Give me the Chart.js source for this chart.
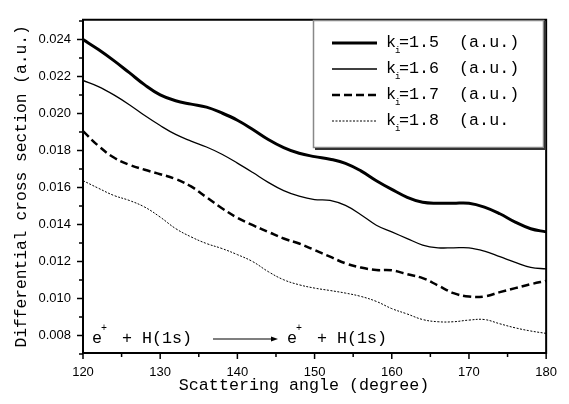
<!DOCTYPE html>
<html>
<head>
<meta charset="utf-8">
<script src="https://cdn.jsdelivr.net/npm/chart.js@4/dist/chart.umd.min.js"></script>
<style>
    html, body { margin: 0; padding: 0; background: #fff; }
    #wrap { width: 569px; height: 404px; }
</style>
</head>
<body>
<div id="wrap"><canvas id="dcsChart" width="569" height="404"></canvas></div>
<script>
// scattering angle (degree)
var angles = [120, 122, 124, 126, 128, 130, 132, 134, 136, 138, 140, 142, 144, 146, 148, 150,
              152, 154, 156, 158, 160, 162, 164, 166, 168, 170, 172, 174, 176, 178, 180];
// differential cross section (a.u.) for each incident momentum
var k15 = [0.0240, 0.02346, 0.02286, 0.02221, 0.02155, 0.02101, 0.02069, 0.02051, 0.02035, 0.02003, 0.01964,
           0.01914, 0.0186, 0.01816, 0.01785, 0.01767, 0.01753, 0.01731, 0.0169, 0.01637, 0.0159,
           0.01547, 0.0152, 0.01515, 0.01515, 0.01515, 0.01494, 0.01458, 0.01413, 0.01377, 0.0136];
var k16 = [0.02179, 0.02146, 0.02101, 0.02048, 0.01989, 0.01935, 0.01887, 0.01851, 0.01819, 0.0178, 0.01732,
           0.01681, 0.01628, 0.01583, 0.01553, 0.01535, 0.0153, 0.01503, 0.01453, 0.01396, 0.0136,
           0.01324, 0.01289, 0.01274, 0.01274, 0.01274, 0.01256, 0.01226, 0.01195, 0.01168, 0.0116];
var k17 = [0.01905, 0.01825, 0.01762, 0.01723, 0.01696, 0.01672, 0.01646, 0.01606, 0.01547, 0.01488, 0.01436,
           0.01396, 0.0136, 0.01324, 0.01297, 0.01262, 0.01226, 0.0119, 0.01167, 0.01154, 0.01152,
           0.01131, 0.0111, 0.0107, 0.01029, 0.0101, 0.01011, 0.01034, 0.01056, 0.01077, 0.01095];
var k18 = [0.01637, 0.01596, 0.01557, 0.0153, 0.01494, 0.0144, 0.01378, 0.01333, 0.01297, 0.0127, 0.01237,
           0.01199, 0.01145, 0.01101, 0.01074, 0.01056, 0.01043, 0.01029, 0.01011, 0.00984, 0.00945,
           0.00916, 0.00886, 0.00874, 0.00874, 0.00883, 0.00886, 0.00863, 0.00841, 0.00824, 0.00811];

var legendRest = ['=1.5  (a.u.)', '=1.6  (a.u.)', '=1.7  (a.u.)', '=1.8  (a.u.'];

var xTicks = [120, 130, 140, 150, 160, 170, 180];
var xMinor = [125, 135, 145, 155, 165, 175];
var yTicks = [0.008, 0.010, 0.012, 0.014, 0.016, 0.018, 0.020, 0.022, 0.024];
var yMinor = [0.007, 0.009, 0.011, 0.013, 0.015, 0.017, 0.019, 0.021, 0.023, 0.025];

function toPoints(vals) {
    var pts = [];
    for (var i = 0; i < angles.length; i++) {
        pts.push({ x: angles[i], y: vals[i] });
    }
    return pts;
}

var monoFont = '"Liberation Mono", "DejaVu Sans Mono", monospace';
var sansFont = '"Liberation Sans", Arial, sans-serif';

// frame, tick marks, legend box and reaction text
var extras = {
    id: 'extras',
    afterDraw: function (chart) {
        var ctx = chart.ctx;
        var a = chart.chartArea;
        var xs = chart.scales.x;
        var ys = chart.scales.y;
        ctx.save();
        ctx.strokeStyle = '#000';
        ctx.fillStyle = '#000';

        // top and right frame
        ctx.lineWidth = 2;
        ctx.beginPath();
        ctx.moveTo(a.left - 1, a.top);
        ctx.lineTo(a.right, a.top);
        ctx.lineTo(a.right, a.bottom + 1);
        ctx.stroke();

        // ticks, outward
        ctx.lineWidth = 1.5;
        ctx.beginPath();
        xTicks.forEach(function (v) {
            var px = xs.getPixelForValue(v);
            ctx.moveTo(px, a.bottom); ctx.lineTo(px, a.bottom + 6);
        });
        xMinor.forEach(function (v) {
            var px = xs.getPixelForValue(v);
            ctx.moveTo(px, a.bottom); ctx.lineTo(px, a.bottom + 4);
        });
        yTicks.forEach(function (v) {
            var py = ys.getPixelForValue(v);
            ctx.moveTo(a.left, py); ctx.lineTo(a.left - 6, py);
        });
        yMinor.forEach(function (v) {
            var py = ys.getPixelForValue(v);
            ctx.moveTo(a.left, py); ctx.lineTo(a.left - 4, py);
        });
        ctx.stroke();

        // x title
        ctx.font = '16.7px ' + monoFont;
        ctx.textAlign = 'center';
        ctx.textBaseline = 'middle';
        ctx.fillText('Scattering angle (degree)', 304, 386);

        // legend box
        ctx.strokeStyle = '#888';
        ctx.lineWidth = 1.5;
        ctx.strokeRect(313.5, 20.5, 230, 127);
        ctx.strokeStyle = '#333';
        ctx.lineWidth = 2;
        ctx.beginPath();
        ctx.moveTo(545, 21); ctx.lineTo(545, 149); ctx.lineTo(315, 149);
        ctx.stroke();

        var rows = [43, 69, 95, 121];
        chart.data.datasets.forEach(function (ds, i) {
            var y = rows[i];
            ctx.strokeStyle = '#000';
            ctx.lineWidth = ds.borderWidth;
            ctx.setLineDash(ds.borderDash || []);
            ctx.beginPath();
            ctx.moveTo(332, y); ctx.lineTo(377, y);
            ctx.stroke();
            ctx.setLineDash([]);
            ctx.textAlign = 'left';
            ctx.textBaseline = 'alphabetic';
            ctx.font = '16.7px ' + monoFont;
            ctx.fillText('k', 386, y + 4);
            ctx.fillText(legendRest[i], 399, y + 4);
            ctx.font = '9px ' + monoFont;
            ctx.fillText('i', 395, y + 10);
        });

        // reaction: e+ + H(1s) -> e+ + H(1s)
        function reaction(x0) {
            ctx.font = '16.7px ' + monoFont;
            ctx.textAlign = 'left';
            ctx.textBaseline = 'alphabetic';
            ctx.fillText('e', x0, 343);
            ctx.fillText('+ H(1s)', x0 + 30, 343);
            ctx.font = '10px ' + monoFont;
            ctx.fillText('+', x0 + 9, 331);
        }
        reaction(92);
        reaction(287);

        ctx.strokeStyle = '#000';
        ctx.lineWidth = 1.2;
        ctx.beginPath();
        ctx.moveTo(213, 339); ctx.lineTo(274, 339);
        ctx.stroke();
        ctx.beginPath();
        ctx.moveTo(278, 339); ctx.lineTo(271, 336.5); ctx.lineTo(271, 341.5);
        ctx.closePath();
        ctx.fill();

        ctx.restore();
    }
};

window.onload = function () {
    var ctx = document.getElementById('dcsChart').getContext('2d');
    var chart = new Chart(ctx, {
        type: 'line',
        data: {
            datasets: [
                { label: 'k_i=1.5 (a.u.)', data: toPoints(k15), borderColor: '#000', borderWidth: 3 },
                { label: 'k_i=1.6 (a.u.)', data: toPoints(k16), borderColor: '#000', borderWidth: 1.3 },
                { label: 'k_i=1.7 (a.u.)', data: toPoints(k17), borderColor: '#000', borderWidth: 2.5, borderDash: [8, 4] },
                { label: 'k_i=1.8 (a.u.', data: toPoints(k18), borderColor: '#000', borderWidth: 1, borderDash: [2, 1.5] }
            ]
        },
        options: {
            responsive: false,
            animation: false,
            layout: { padding: { top: 16, right: 18, left: 0, bottom: 0 } },
            plugins: {
                legend: { display: false },
                tooltip: { enabled: false }
            },
            elements: {
                point: { radius: 0 },
                line: { tension: 0.4, fill: false }
            },
            scales: {
                x: {
                    type: 'linear',
                    min: 120,
                    max: 180,
                    afterBuildTicks: function (s) {
                        s.ticks = xTicks.map(function (v) { return { value: v }; });
                    },
                    afterFit: function (s) { s.height = 51; },
                    grid: { display: false, drawTicks: false },
                    border: { display: true, color: '#000', width: 2 },
                    ticks: {
                        color: '#000',
                        padding: 12,
                        maxRotation: 0,
                        font: { family: sansFont, size: 13 }
                    }
                },
                y: {
                    min: 0.00705,
                    max: 0.02507,
                    afterBuildTicks: function (s) {
                        s.ticks = yTicks.map(function (v) { return { value: v }; });
                    },
                    afterFit: function (s) { s.width = 83; },
                    grid: { display: false, drawTicks: false },
                    border: { display: true, color: '#000', width: 2 },
                    ticks: {
                        color: '#000',
                        padding: 12,
                        font: { family: sansFont, size: 13 },
                        callback: function (v) { return v.toFixed(3); }
                    },
                    title: {
                        display: true,
                        text: 'Differential cross section (a.u.)',
                        color: '#000',
                        padding: { top: 12, bottom: 0 },
                        font: { family: monoFont, size: 16.3 }
                    }
                }
            }
        },
        plugins: [extras]
    });
};
</script>
</body>
</html>
